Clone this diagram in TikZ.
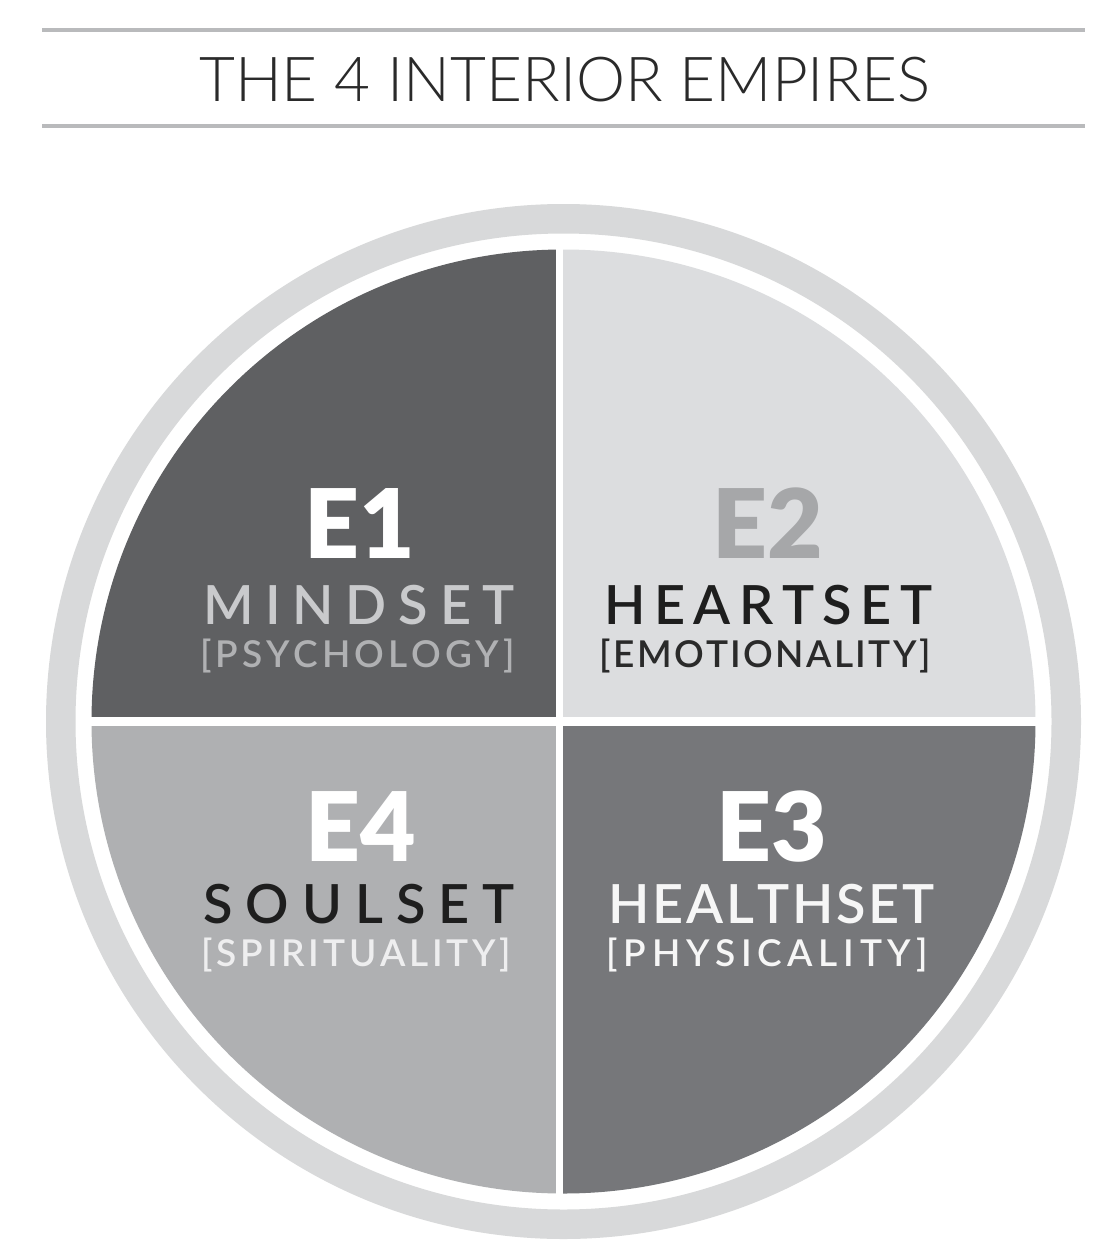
\documentclass[tikz,border=0pt]{standalone}
\usepackage{fontspec}
\setmainfont{Lato}
\newfontfamily\latolight{Lato Light}
\newfontfamily\latoblack{Lato Black}
\newfontfamily\latosemi{Lato Semibold}
\makeatletter
\newcount\tr@n
\newdimen\tr@d
\def\tr@cloop#1{\ifx\relax#1\else#1\global\advance\tr@n1 \expandafter\tr@cloop\fi}
\def\tr@loop#1{\ifx\relax#1\kern-\tr@k\relax\else#1\kern\tr@k\relax\expandafter\tr@loop\fi}
\def\spreadto#1#2{%
  \setbox0\hbox{\global\tr@n=0 \tr@cloop#2\relax}%
  \tr@d=#1\relax\advance\tr@d-\wd0
  \divide\tr@d by \numexpr\tr@n-1\relax
  \edef\tr@k{\the\tr@d}\tr@loop#2\relax}
\makeatother
\definecolor{ringgray}{HTML}{D8D9DA}
\definecolor{qone}{HTML}{5F6062}
\definecolor{qtwo}{HTML}{DCDDDF}
\definecolor{qthree}{HTML}{76777A}
\definecolor{qfour}{HTML}{AFB0B2}
\definecolor{rulegray}{HTML}{B9BABC}
\definecolor{titlegray}{HTML}{2A2A2A}
\definecolor{mindcol}{HTML}{C9CACC}
\definecolor{psycol}{HTML}{B0B1B3}
\definecolor{etwocol}{HTML}{A6A7A9}
\definecolor{darktext}{HTML}{1E1E1E}
\definecolor{darksub}{HTML}{2A2A2A}
\definecolor{whitetext}{HTML}{F6F6F6}
\definecolor{spicol}{HTML}{EEEEEF}
\tikzset{
  lbl/.style={anchor=base, inner sep=0pt, outer sep=0pt},
  bignum/.style={lbl, font=\latoblack\fontsize{96}{96}\selectfont},
  word/.style={lbl, font=\latosemi\fontsize{54}{54}\selectfont},
  subword/.style={lbl, font=\latosemi\fontsize{37}{37}\selectfont},
  rulestyle/.style={draw=rulegray, line width=4pt},
}
\begin{document}
\begin{tikzpicture}[x=1pt, y=-1pt]
\useasboundingbox (0,0) rectangle (1108,1258);
\fill[white] (0,0) rectangle (1108,1258);
% title rules
\coordinate (r1a) at (42,30);
\coordinate (r1b) at (1085,30);
\coordinate (r2a) at (42,126);
\coordinate (r2b) at (1085,126);
\draw[rulestyle] (r1a) -- (r1b);
\draw[rulestyle] (r2a) -- (r2b);
\node[lbl, font=\latolight\fontsize{62}{62}\selectfont, text=titlegray] (title) at (565,101) {THE 4 INTERIOR EMPIRES};
% outer ring
\coordinate (c) at (563.5,721.5);
\draw[ringgray, line width=29.5pt] (c) circle[radius=502.75];
% quadrants
\begin{scope}
  \clip (c) circle[radius=472];
  \fill[qone] (80,240) rectangle (556,717);
  \fill[qtwo] (563,240) rectangle (1050,717);
  \fill[qfour] (80,726) rectangle (556,1200);
  \fill[qthree] (563,726) rectangle (1050,1200);
\end{scope}
% E1
\node[bignum, text=white] (e1) at (360,558) {E1};
\node[word, text=mindcol] (mind) at (359,624) {\spreadto{312pt}{MINDSET}};
\node[subword, text=psycol] (psy) at (357.5,667) {\spreadto{311pt}{[PSYCHOLOGY]}};
% E2
\node[bignum, text=etwocol] (e2) at (767.5,558) {E2};
\node[word, text=darktext] (heart) at (768.5,624) {\spreadto{327pt}{HEARTSET}};
\node[subword, text=darksub] (emo) at (765,667) {\spreadto{330pt}{[EMOTIONALITY]}};
% E4
\node[bignum, text=white] (e4) at (361,861) {E4};
\node[word, text=darktext] (soul) at (359,923) {\spreadto{312pt}{SOULSET}};
\node[subword, text=spicol] (spi) at (356.5,966) {\spreadto{309pt}{[SPIRITUALITY]}};
% E3
\node[bignum, text=white] (e3) at (772,861) {E3};
\node[word, text=whitetext] (health) at (771.5,923) {\spreadto{321pt}{HEALTHSET}};
\node[subword, text=whitetext] (phy) at (767.5,966) {\spreadto{321pt}{[PHYSICALITY]}};
\end{tikzpicture}
\end{document}
